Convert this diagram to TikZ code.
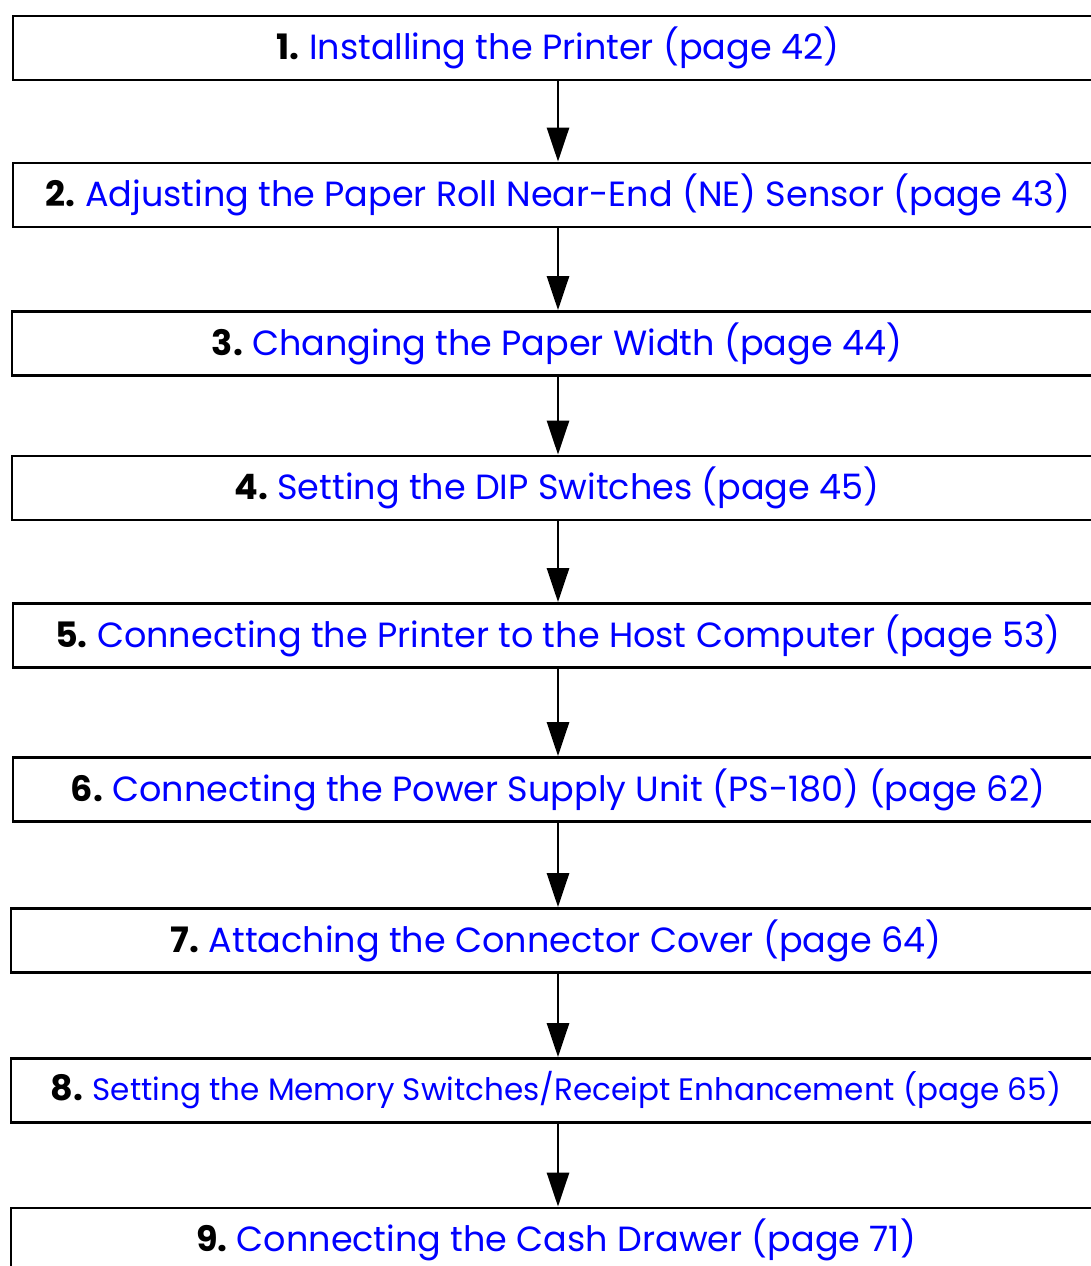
\documentclass[tikz,border=0pt]{standalone}
\usepackage{fontspec}
\setmainfont{Poppins}
\usepackage{xcolor}
\usetikzlibrary{arrows.meta}
\definecolor{linkblue}{HTML}{0000FF}

\newcommand{\stepnum}[1]{{\bfseries #1.}~}

\begin{document}
\begin{tikzpicture}[x=1pt, y=-1pt,
  stepbox/.style={draw=black, line width=2.8pt, minimum width=1090pt, minimum height=64pt, inner sep=0pt, font=\fontsize{35}{40}\selectfont, anchor=center},
  arr/.style={-{Triangle[length=34pt, width=22pt]}, line width=2.8pt, black},
]
\clip (0,0) rectangle (1091,1266);
\useasboundingbox (0,0) rectangle (1091,1266);

\node[stepbox] (s1) at (558,48) {\stepnum{1}\textcolor{linkblue}{Installing the Printer (page 42)}};
\node[stepbox] (s2) at (558,195) {\stepnum{2}\textcolor{linkblue}{Adjusting the Paper Roll Near-End (NE) Sensor (page 43)}};
\node[stepbox] (s3) at (557,343.5) {\stepnum{3}\textcolor{linkblue}{Changing the Paper Width (page 44)}};
\node[stepbox] (s4) at (557,488) {\stepnum{4}\textcolor{linkblue}{Setting the DIP Switches (page 45)}};
\node[stepbox] (s5) at (558,635.5) {\stepnum{5}\textcolor{linkblue}{Connecting the Printer to the Host Computer (page 53)}};
\node[stepbox] (s6) at (558,789.5) {\stepnum{6}\textcolor{linkblue}{Connecting the Power Supply Unit (PS-180) (page 62)}};
\node[stepbox] (s7) at (556,940.5) {\stepnum{7}\textcolor{linkblue}{Attaching the Connector Cover (page 64)}};
\node[stepbox] (s8) at (556,1090.5) {\stepnum{8}\textcolor{linkblue}{\fontsize{31}{36}\selectfont Setting the Memory Switches/Receipt Enhancement (page 65)}};
\node[stepbox] (s9) at (556,1240) {\stepnum{9}\textcolor{linkblue}{Connecting the Cash Drawer (page 71)}};

\foreach \i/\j in {s1/s2, s2/s3, s3/s4, s4/s5, s5/s6, s6/s7, s7/s8, s8/s9}
  \draw[arr] (\i.south -| 558,0) -- (\j.north -| 558,0);

\end{tikzpicture}
\end{document}
